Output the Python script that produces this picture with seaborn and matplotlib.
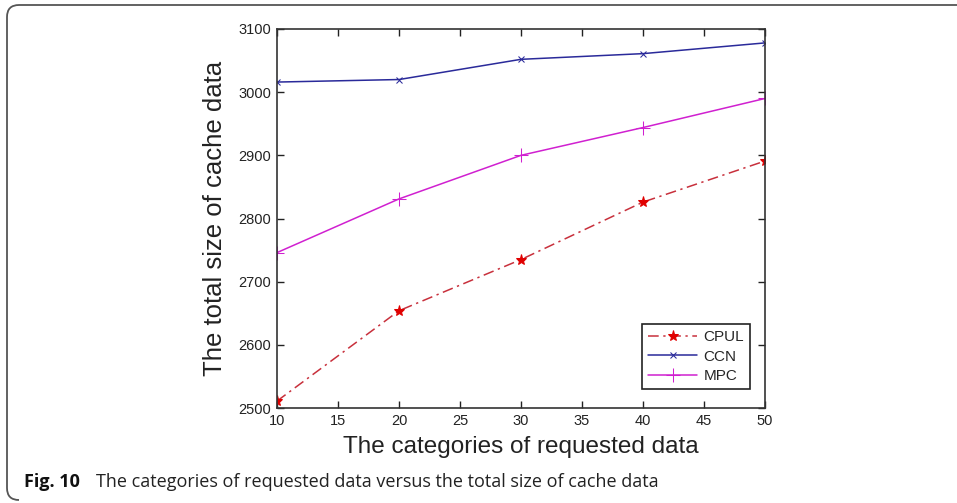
import matplotlib
matplotlib.use("Agg")
import matplotlib.pyplot as plt
from matplotlib.path import Path
from matplotlib.patches import PathPatch
import seaborn as sns
import pandas as pd

categories = [10, 20, 30, 40, 50]
cpul = [2511, 2654, 2735, 2826, 2891]
ccn = [3016, 3020, 3052, 3061, 3078]
mpc = [2746, 2831, 2900, 2944, 2990]
series_names = ["CPUL", "CCN", "MPC"]
x_ticks = [10, 15, 20, 25, 30, 35, 40, 45, 50]
y_ticks = [2500, 2600, 2700, 2800, 2900, 3000, 3100]

sns.set_theme(style="ticks")
plt.rcParams["font.family"] = ["Liberation Sans", "DejaVu Sans"]

df = pd.DataFrame({
    "x": categories * 3,
    "y": cpul + ccn + mpc,
    "series": [s for s in series_names for _ in categories],
})

fig = plt.figure(figsize=(9.57, 5.03), dpi=100)
ax = fig.add_axes([277 / 957, 1 - 408 / 503, (765 - 277) / 957, (408 - 29) / 503])

styles = {
    "CPUL": dict(color="#c8303c", ls=(0, (7, 3, 1.5, 3)), marker="*", mfc="#e00000", mec="#e00000", ms=8, lw=1.1),
    "CCN": dict(color="#2a2a9a", ls="-", marker="x", mfc="#2a2a9a", mec="#2a2a9a", ms=5, lw=1.1),
    "MPC": dict(color="#d020d0", ls="-", marker="+", mfc="#d020d0", mec="#d020d0", ms=10, lw=1.1),
}

palette = {k: v["color"] for k, v in styles.items()}
sns.lineplot(data=df, x="x", y="y", hue="series", palette=palette, ax=ax, legend=False)
for line, name in zip(ax.get_lines(), series_names):
    st = styles[name]
    line.set_linestyle(st["ls"])
    line.set_marker(st["marker"])
    line.set_markerfacecolor(st["mfc"])
    line.set_markeredgecolor(st["mec"])
    line.set_markersize(st["ms"])
    line.set_linewidth(st["lw"])
    line.set_label(name)

ax.set_xlim(10, 50)
ax.set_ylim(2500, 3100)
ax.set_xticks(x_ticks)
ax.set_yticks(y_ticks)
ax.tick_params(direction="in", top=True, right=True, length=5, width=1, labelsize=10.5, colors="#222222", pad=4)
for sp in ax.spines.values():
    sp.set_visible(True)
    sp.set_color("#333333")
    sp.set_linewidth(1.2)

ax.set_xlabel("The categories of requested data", fontsize=17.5, color="#222222", labelpad=6)
ax.set_ylabel("The total size of cache data", fontsize=18.5, color="#222222", labelpad=8)

leg = ax.legend(loc="lower right", bbox_to_anchor=(0.985, 0.03), fontsize=11, frameon=True,
                fancybox=False, edgecolor="#222222", framealpha=1, handlelength=3.2,
                borderpad=0.4, labelspacing=0.35, handletextpad=0.4)
leg.get_frame().set_linewidth(1.2)

# frame around figure (top line and left line with rounded corners)
W, H = 957, 503
r = 12
pts = [(W, H - 5), (7 + r, H - 5), (7, H - 5), (7, H - 5 - r), (7, 3 + r), (7, 3), (7 + r, 3)]
codes = [Path.MOVETO, Path.LINETO, Path.CURVE3, Path.CURVE3, Path.LINETO, Path.CURVE3, Path.CURVE3]
verts = [(x / W, y / H) for x, y in pts]
fig.patches.append(PathPatch(Path(verts, codes), transform=fig.transFigure, fill=False,
                             edgecolor="#555555", lw=1.3))

fig.text(24 / W, 1 - 482 / H, "Fig. 10", fontsize=13, fontweight="bold", family=["Open Sans", "DejaVu Sans"],
         va="center", ha="left", color="#111111")
fig.text(96 / W, 1 - 482 / H, "The categories of requested data versus the total size of cache data",
         fontsize=13, family=["Open Sans", "DejaVu Sans"], va="center", ha="left", color="#222222")

fig.savefig("out.png", dpi=100)
